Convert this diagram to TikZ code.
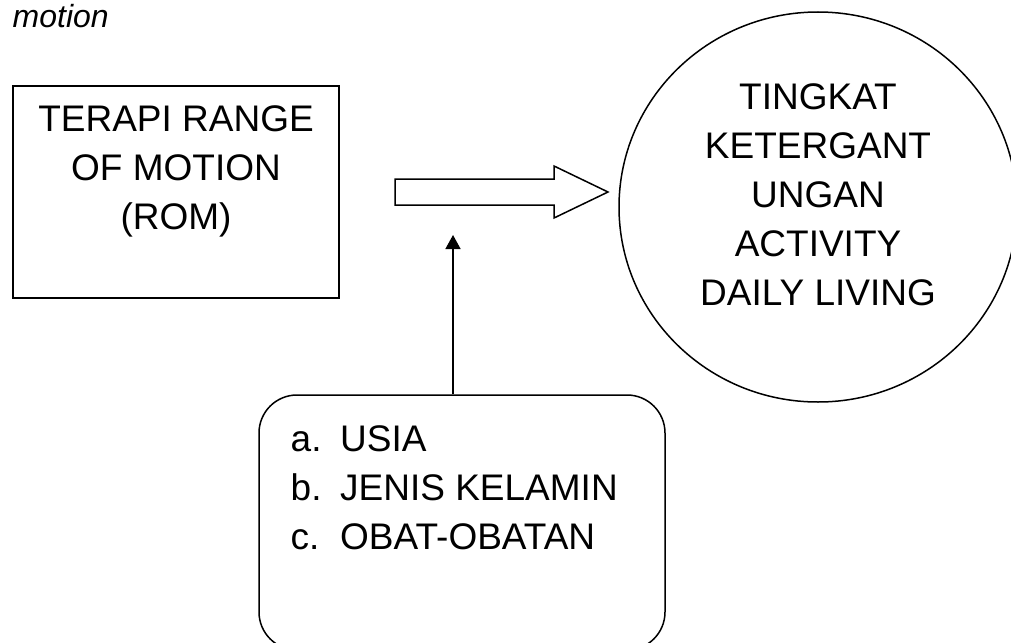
\documentclass[tikz,border=0pt]{standalone}
\usepackage{fontspec}
\setmainfont{Liberation Sans}
\usetikzlibrary{shapes.geometric,arrows.meta}
\tikzset{
  shp/.style={draw=black, line width=1.5pt, inner sep=0pt},
  big/.style={font=\fontsize{37}{49}\selectfont, inner sep=0pt},
}
\begin{document}
\begin{tikzpicture}[x=1pt,y=-1pt]
\useasboundingbox (0,0) rectangle (1011,642);
\clip (0,0) rectangle (1011,642);
% caption fragment
\node[font=\fontsize{32}{38}\selectfont\itshape, inner sep=0pt, anchor=base west] (cap) at (12.5,28) {motion};
% left rectangle
\node[shp, rectangle, minimum width=326pt, minimum height=212pt] (rom) at (176,192) {};
\node[big, align=center, anchor=north] (romtxt) at (176,105) {TERAPI RANGE\\OF MOTION\\(ROM)};
% ellipse
\node[shp, ellipse, minimum width=398pt, minimum height=390pt] (circ) at (818,207) {};
\node[big, align=center, anchor=north] (circtxt) at (818,83) {TINGKAT\\KETERGANT\\UNGAN\\ACTIVITY\\DAILY LIVING};
% block arrow
\coordinate (a1) at (395,179);
\coordinate (a2) at (554,179);
\coordinate (a3) at (554,166);
\coordinate (a4) at (608,192);
\coordinate (a5) at (554,218);
\coordinate (a6) at (554,205);
\coordinate (a7) at (395,205);
\draw[line width=1.5pt, line join=miter] (a1) -- (a2) -- (a3) -- (a4) -- (a5) -- (a6) -- (a7) -- cycle;
% bottom box
\node[shp, rectangle, rounded corners=38pt, minimum width=406pt, minimum height=255pt] (list) at (462,522.5) {};
\node[big, align=left, anchor=north west] (listtxt) at (290.5,425.5) {\makebox[49.5pt][l]{a.}USIA\\\makebox[49.5pt][l]{b.}JENIS KELAMIN\\\makebox[49.5pt][l]{c.}OBAT-OBATAN};
% vertical arrow
\coordinate (vt) at (453,235);
\draw[line width=1.5pt, -{Triangle[length=14pt,width=15pt]}] (list.north -| vt) -- (vt);
\end{tikzpicture}
\end{document}
